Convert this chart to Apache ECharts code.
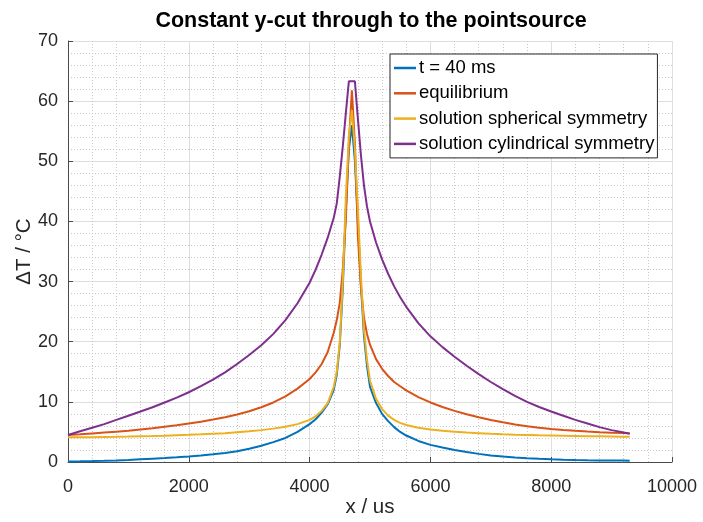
<!DOCTYPE html>
<html>
<head>
<meta charset="utf-8">
<script src="https://cdn.jsdelivr.net/npm/echarts@6/dist/echarts.min.js"></script>
<style>
  html, body { margin: 0; padding: 0; background: #fff; }
  #chart { width: 703px; height: 522px; }
</style>
</head>
<body>
<div id="chart"></div>
<script>
// Position along the cut (us)
const xPositions = [
  0, 200, 400, 600, 800, 1000, 1200, 1400, 1600, 1800,
  2000, 2200, 2400, 2600, 2800, 3000, 3200, 3400, 3600, 3800,
  4000, 4100, 4200, 4300, 4400, 4450, 4500, 4550, 4600, 4650,
  4700, 4750, 4800, 4850, 4900, 4950, 5000, 5100, 5200, 5300,
  5400, 5500, 5600, 5800, 6000, 6200, 6400, 6600, 6800, 7000,
  7200, 7400, 7600, 7800, 8000, 8200, 8400, 8600, 8800, 9000,
  9200, 9300
];

// Temperature rise (°C) for each curve
const t40ms = [
  0.10, 0.12, 0.15, 0.20, 0.27, 0.35, 0.45, 0.55, 0.65, 0.78,
  0.92, 1.08, 1.27, 1.50, 1.80, 2.20, 2.70, 3.30, 4.00, 5.00,
  6.30, 7.10, 8.20, 9.60, 12.0, 14.5, 19.5, 29.0, 42.0, 52.0,
  56.0, 50.0, 40.0, 29.5, 21.0, 16.0, 12.5, 9.80, 8.00, 6.80,
  5.80, 5.00, 4.40, 3.50, 2.85, 2.40, 2.00, 1.65, 1.35, 1.10,
  0.90, 0.75, 0.62, 0.52, 0.45, 0.39, 0.34, 0.30, 0.27, 0.25,
  0.23, 0.22
];

const equilibrium = [
  4.50, 4.60, 4.75, 4.90, 5.05, 5.20, 5.40, 5.60, 5.85, 6.10,
  6.40, 6.70, 7.05, 7.45, 7.90, 8.45, 9.10, 9.90, 10.9, 12.2,
  13.8, 14.9, 16.3, 18.3, 21.5, 23.6, 26.5, 32.0, 40.5, 53.0,
  61.8, 53.0, 37.5, 29.0, 24.0, 21.3, 19.5, 17.1, 15.5, 14.3,
  13.3, 12.6, 11.9, 10.8, 9.90, 9.15, 8.50, 7.95, 7.45, 7.00,
  6.60, 6.25, 5.95, 5.70, 5.50, 5.32, 5.18, 5.06, 4.96, 4.88,
  4.82, 4.80
];

const spherical = [
  4.10, 4.10, 4.12, 4.15, 4.18, 4.22, 4.27, 4.32, 4.38, 4.45,
  4.52, 4.60, 4.70, 4.80, 4.95, 5.10, 5.30, 5.55, 5.85, 6.30,
  7.00, 7.60, 8.50, 9.80, 12.5, 15.0, 20.0, 30.0, 44.0, 54.0,
  58.5, 52.0, 42.0, 31.0, 22.0, 17.0, 13.5, 10.5, 8.80, 7.70,
  7.00, 6.50, 6.15, 5.70, 5.40, 5.20, 5.05, 4.90, 4.80, 4.70,
  4.62, 4.55, 4.50, 4.45, 4.42, 4.38, 4.34, 4.30, 4.27, 4.24,
  4.21, 4.20
];

const cylindrical = [
  4.50, 5.10, 5.70, 6.30, 7.00, 7.70, 8.40, 9.10, 9.90, 10.7,
  11.6, 12.6, 13.7, 14.9, 16.3, 17.8, 19.4, 21.3, 23.6, 26.4,
  29.8, 32.0, 34.5, 37.3, 40.6, 43.0, 47.5, 52.5, 58.0, 63.3,
  63.3, 63.3, 57.0, 51.0, 46.0, 42.5, 40.0, 36.5, 33.7, 31.3,
  29.2, 27.4, 25.8, 23.1, 20.9, 19.1, 17.5, 16.0, 14.6, 13.3,
  12.1, 11.0, 10.0, 9.15, 8.40, 7.70, 7.00, 6.40, 5.80, 5.30,
  4.90, 4.70
];

const seriesNames = [
  't = 40 ms',
  'equilibrium',
  'solution spherical symmetry',
  'solution cylindrical symmetry'
];
const seriesColors = ['#0072BD', '#D95319', '#EDB120', '#7E2F8E'];
const seriesValues = [t40ms, equilibrium, spherical, cylindrical];

const xTicks = [0, 2000, 4000, 6000, 8000, 10000];
const yTicks = [0, 10, 20, 30, 40, 50, 60, 70];

const FONT = '"Liberation Sans", Arial, Helvetica, sans-serif';
const textColor = '#262626';

const chart = echarts.init(document.getElementById('chart'), null, { renderer: 'canvas' });

const series = seriesValues.map((vals, i) => ({
  name: seriesNames[i],
  type: 'line',
  data: xPositions.map((x, j) => [x, vals[j]]),
  showSymbol: false,
  symbol: 'none',
  smooth: false,
  lineStyle: { color: seriesColors[i], width: 2 },
  itemStyle: { color: seriesColors[i] },
  z: 2 + i,
  animation: false
}));

const axisCommon = {
  axisLine: { show: true, onZero: false, lineStyle: { color: '#4a4a4a', width: 1 } },
  axisTick: { show: true, inside: true, length: 5, lineStyle: { color: '#4a4a4a' } },
  axisLabel: { color: textColor, fontFamily: FONT, fontSize: 18 },
  splitLine: { show: true, lineStyle: { color: '#dedede', width: 1, type: 'solid' } },
  minorTick: { show: false, splitNumber: 5 },
  minorSplitLine: { show: true, lineStyle: { color: '#c8c8c8', width: 1, type: [1, 2] } },
  nameTextStyle: { color: textColor, fontFamily: FONT, fontSize: 20.5 },
  nameMoveOverlap: false
};

chart.setOption({
  backgroundColor: '#ffffff',
  animation: false,
  title: {
    text: 'Constant y-cut through to the pointsource',
    left: 366,
    top: 5,
    textAlign: 'center',
    textStyle: { fontFamily: FONT, fontSize: 21.5, fontWeight: 'bold', color: '#000' }
  },
  grid: { left: 68, right: 31, top: 41, bottom: 60, containLabel: false, outerBoundsMode: 'none' },
  legend: {
    data: seriesNames,
    orient: 'vertical',
    left: 390,
    top: 54,
    padding: [3.5, 3, 3.5, 4],
    itemGap: 4.3,
    itemWidth: 22,
    itemHeight: 2.5,
    icon: 'rect',
    backgroundColor: '#ffffff',
    borderColor: '#262626',
    borderWidth: 1,
    textStyle: { fontFamily: FONT, fontSize: 18.5, lineHeight: 21, color: '#000', padding: [0, 0, 0, -2] }
  },
  xAxis: Object.assign({}, axisCommon, {
    type: 'value',
    min: xTicks[0],
    max: xTicks[xTicks.length - 1],
    interval: xTicks[1] - xTicks[0],
    name: 'x / us',
    nameLocation: 'middle',
    nameGap: 35,
    axisLabel: Object.assign({}, axisCommon.axisLabel, {
      margin: 16,
      formatter: (v) => String(v)
    })
  }),
  yAxis: Object.assign({}, axisCommon, {
    type: 'value',
    min: yTicks[0],
    max: yTicks[yTicks.length - 1],
    interval: yTicks[1] - yTicks[0],
    name: 'ΔT / °C',
    nameLocation: 'middle',
    nameGap: 33,
    axisLabel: Object.assign({}, axisCommon.axisLabel, {
      margin: 10,
      formatter: (v) => String(v)
    })
  }),
  series: series
});
</script>
</body>
</html>
